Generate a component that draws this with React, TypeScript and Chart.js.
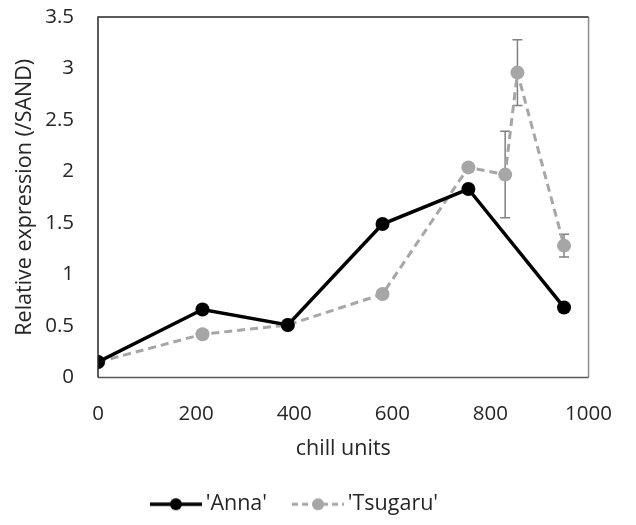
import React, { useEffect, useRef } from "react";
import { Chart, registerables } from "chart.js";

Chart.register(...registerables);

const annaX = [0, 213, 387, 580, 755, 950];
const annaY = [0.15, 0.66, 0.51, 1.49, 1.83, 0.68];
const tsugaruX = [0, 213, 387, 580, 755, 830, 855, 950];
const tsugaruY = [0.15, 0.42, 0.51, 0.81, 2.04, 1.97, 2.96, 1.28];
const tsugaruErr = [0, 0, 0, 0, 0, 0.42, 0.32, 0.11];
const xTicks = [0, 200, 400, 600, 800, 1000];
const yTicks = [0, 0.5, 1, 1.5, 2, 2.5, 3, 3.5];

const FONT = "'Open Sans', 'Noto Sans', sans-serif";
const TEXT = "#262626";
const GRAY = "#a6a6a6";

function legendImage(color: string, dashed: boolean, lw: number) {
  const c = document.createElement("canvas");
  c.width = 52;
  c.height = 16;
  const ctx = c.getContext("2d")!;
  ctx.strokeStyle = color;
  ctx.lineWidth = lw;
  if (dashed) ctx.setLineDash([6, 4]);
  ctx.beginPath();
  ctx.moveTo(0, 8);
  ctx.lineTo(52, 8);
  ctx.stroke();
  ctx.setLineDash([]);
  ctx.fillStyle = color;
  ctx.beginPath();
  ctx.arc(26, 8, 6, 0, Math.PI * 2);
  ctx.fill();
  return c;
}

const errorBarPlugin = {
  id: "errorBars",
  beforeDatasetsDraw(chart: any) {
    const ctx = chart.ctx;
    const xs = chart.scales.x;
    const ys = chart.scales.y;
    ctx.save();
    ctx.strokeStyle = "#808080";
    ctx.lineWidth = 1.5;
    tsugaruX.forEach((xv, i) => {
      const e = tsugaruErr[i];
      if (!e) return;
      const px = xs.getPixelForValue(xv);
      const top = ys.getPixelForValue(tsugaruY[i] + e);
      const bot = ys.getPixelForValue(tsugaruY[i] - e);
      ctx.beginPath();
      ctx.moveTo(px, top);
      ctx.lineTo(px, bot);
      ctx.moveTo(px - 5, top);
      ctx.lineTo(px + 5, top);
      ctx.moveTo(px - 5, bot);
      ctx.lineTo(px + 5, bot);
      ctx.stroke();
    });
    ctx.restore();
  },
  afterDraw(chart: any) {
    const { left, right, top, bottom } = chart.chartArea;
    const ctx = chart.ctx;
    ctx.save();
    ctx.lineWidth = 1.5;
    ctx.strokeStyle = "#8c8c8c";
    ctx.beginPath();
    ctx.moveTo(right, top);
    ctx.lineTo(right, bottom);
    ctx.stroke();
    ctx.strokeStyle = "#595959";
    ctx.beginPath();
    ctx.moveTo(left, bottom);
    ctx.lineTo(right, bottom);
    ctx.stroke();
    ctx.strokeStyle = "#262626";
    ctx.beginPath();
    ctx.moveTo(left, bottom);
    ctx.lineTo(left, top);
    ctx.lineTo(right, top);
    ctx.stroke();
    ctx.restore();
  },
};

export default function App() {
  const ref = useRef<HTMLCanvasElement>(null);
  useEffect(() => {
    const imgA = legendImage("#000000", false, 3.5);
    const imgT = legendImage(GRAY, true, 3);
    const chart = new Chart(ref.current!, {
      type: "line",
      data: {
        datasets: [
          {
            label: "'Anna'",
            data: annaX.map((x, i) => ({ x, y: annaY[i] })),
            borderColor: "#000000",
            backgroundColor: "#000000",
            borderWidth: 3.5,
            pointRadius: 7,
            pointBorderWidth: 0,
            pointStyle: "circle",
            pointBackgroundColor: "#000000",
          },
          {
            label: "'Tsugaru'",
            data: tsugaruX.map((x, i) => ({ x, y: tsugaruY[i] })),
            borderColor: GRAY,
            backgroundColor: GRAY,
            borderWidth: 3,
            borderDash: [8, 5],
            pointRadius: 7,
            pointBorderWidth: 0,
            pointBackgroundColor: GRAY,
          },
        ],
      },
      options: {
        animation: false,
        responsive: true,
        maintainAspectRatio: false,
        layout: { padding: { left: 0, right: 41, top: 17, bottom: 0 } },
        plugins: {
          tooltip: { enabled: false },
          legend: {
            position: "bottom",
            labels: {
              usePointStyle: true,
              pointStyleWidth: 38,
              color: TEXT,
              font: { family: FONT, size: 21.5 },
              padding: 32,
              generateLabels: (ch: any) =>
                ch.data.datasets.map((d: any, i: number) => ({
                  text: d.label,
                  pointStyle: i === 0 ? imgA : imgT,
                  fillStyle: d.borderColor,
                  strokeStyle: d.borderColor,
                  lineWidth: 0,
                  hidden: false,
                  datasetIndex: i,
                  fontColor: TEXT,
                })),
            },
          },
        },
        scales: {
          x: {
            type: "linear",
            min: 0,
            max: 1000,
            afterBuildTicks: (s: any) => {
              s.ticks = xTicks.map((v) => ({ value: v }));
            },
            ticks: {
              color: TEXT,
              font: { family: FONT, size: 20.5 },
              padding: 24,
              callback: (v: any) => String(v),
            },
            grid: { display: false, drawTicks: false },
            border: { display: false },
            title: {
              display: true,
              text: "chill units",
              color: TEXT,
              font: { family: FONT, size: 21.5 },
              padding: { top: 0, bottom: 0 },
            },
            afterFit: (s: any) => {
              s.height = 84;
            },
          },
          y: {
            type: "linear",
            min: 0,
            max: 3.5,
            afterBuildTicks: (s: any) => {
              s.ticks = yTicks.map((v) => ({ value: v }));
            },
            ticks: {
              color: TEXT,
              font: { family: FONT, size: 20.5 },
              padding: 0,
              callback: (v: any) => String(v),
            },
            grid: {
              display: true,
              drawOnChartArea: false,
              drawTicks: true,
              tickLength: 24,
              color: "rgba(0,0,0,0)",
              tickColor: "rgba(0,0,0,0)",
            },
            border: { display: false },
            title: {
              display: true,
              text: "Relative expression (/SAND)",
              color: TEXT,
              font: { family: FONT, size: 21.5 },
              padding: { top: 12, bottom: 0 },
            },
            afterFit: (s: any) => {
              s.width = 98;
            },
          },
        },
      },
      plugins: [errorBarPlugin],
    } as any);
    return () => chart.destroy();
  }, []);
  return (
    <div style={{ position: "absolute", left: 0, top: 0, width: 636, height: 525 }}>
      <canvas ref={ref} />
    </div>
  );
}
